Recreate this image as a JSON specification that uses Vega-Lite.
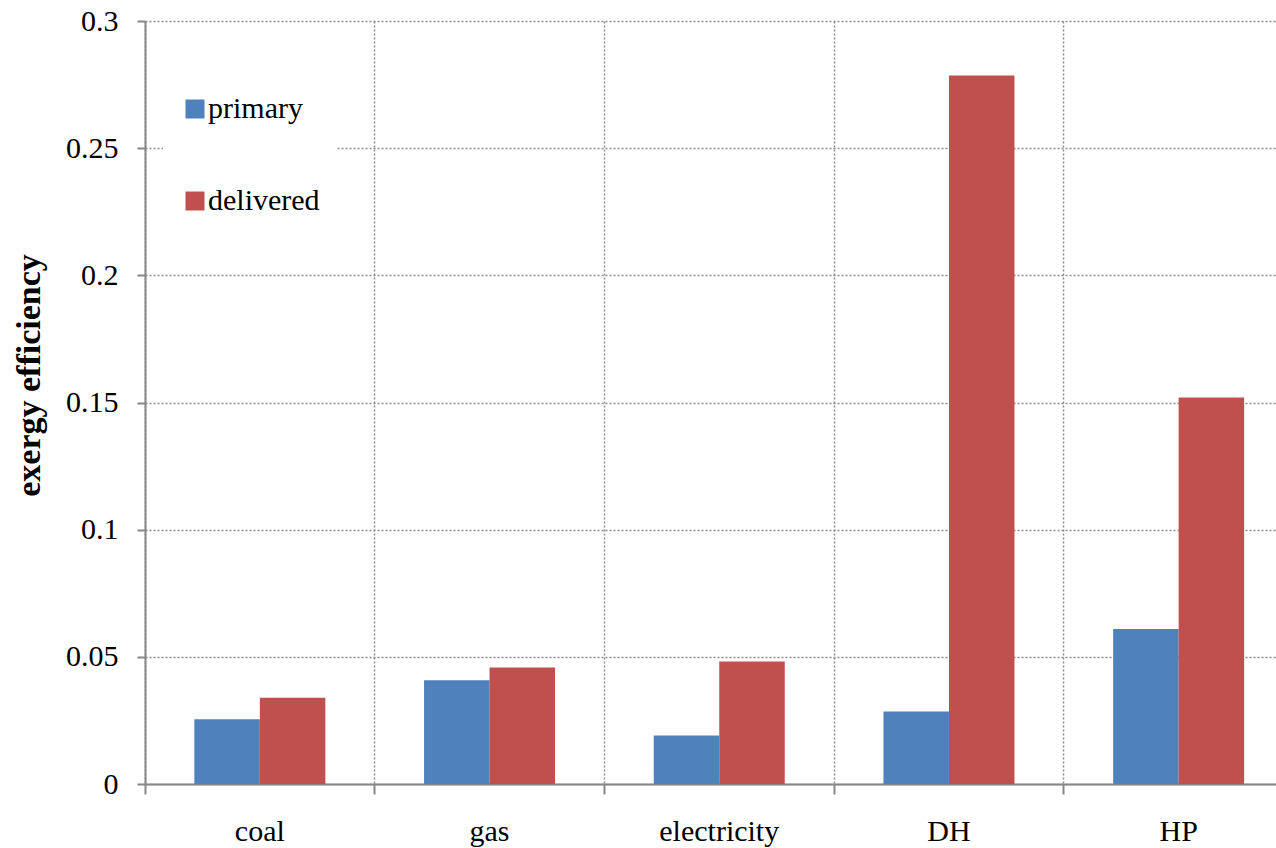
{
  "$schema": "https://vega.github.io/schema/vega-lite/v6.json",
  "width": 1131,
  "height": 763,
  "autosize": {"type": "none"},
  "padding": {"left": 145, "top": 21, "right": 0, "bottom": 64},
  "background": "white",
  "data": {
    "values": [
      {"source": "coal", "type": "primary", "efficiency": 0.0255},
      {"source": "coal", "type": "delivered", "efficiency": 0.0339},
      {"source": "gas", "type": "primary", "efficiency": 0.0408},
      {"source": "gas", "type": "delivered", "efficiency": 0.0458},
      {"source": "electricity", "type": "primary", "efficiency": 0.0191},
      {"source": "electricity", "type": "delivered", "efficiency": 0.0482},
      {"source": "DH", "type": "primary", "efficiency": 0.0285},
      {"source": "DH", "type": "delivered", "efficiency": 0.2786},
      {"source": "HP", "type": "primary", "efficiency": 0.0609},
      {"source": "HP", "type": "delivered", "efficiency": 0.152}
    ]
  },
  "mark": {"type": "bar"},
  "encoding": {
    "x": {
      "field": "source",
      "type": "nominal",
      "sort": ["coal", "gas", "electricity", "DH", "HP"],
      "scale": {"range": [0, 1148.5], "paddingInner": 0, "paddingOuter": 0},
      "axis": {
        "title": null,
        "bandPosition": 0,
        "labelAngle": 0,
        "labelFont": "Liberation Serif, Times New Roman, serif",
        "labelFontSize": 30,
        "labelColor": "#000000",
        "labelPadding": 22,
        "labelBaseline": "top",
        "domainColor": "#868686",
        "domainWidth": 2,
        "ticks": true,
        "tickColor": "#868686",
        "tickWidth": 2,
        "tickSize": 10,
        "grid": true,
        "gridColor": "#8c8c8c",
        "gridWidth": 1.5,
        "gridDash": [2, 2]
      }
    },
    "xOffset": {
      "field": "type",
      "sort": ["primary", "delivered"],
      "scale": {"paddingInner": 0, "paddingOuter": 0.7535}
    },
    "y": {
      "field": "efficiency",
      "type": "quantitative",
      "scale": {"domain": [0, 0.3], "nice": false},
      "axis": {
        "values": [0, 0.05, 0.1, 0.15, 0.2, 0.25, 0.3],
        "format": "~g",
        "title": "exergy efficiency",
        "titleFont": "Liberation Serif, Times New Roman, serif",
        "titleFontSize": 34,
        "titleFontWeight": "bold",
        "titleColor": "#000000",
        "titleAngle": -90,
        "titleX": -116,
        "titleY": 354,
        "titleAlign": "center",
        "titleBaseline": "middle",
        "labelFont": "Liberation Serif, Times New Roman, serif",
        "labelFontSize": 30,
        "labelColor": "#000000",
        "labelPadding": 19,
        "domainColor": "#868686",
        "domainWidth": 2,
        "tickColor": "#868686",
        "tickWidth": 2,
        "tickSize": 8,
        "grid": true,
        "gridColor": "#8c8c8c",
        "gridWidth": 1.5,
        "gridDash": [2, 2]
      }
    },
    "color": {
      "field": "type",
      "type": "nominal",
      "sort": ["primary", "delivered"],
      "scale": {"domain": ["primary", "delivered"], "range": ["#4F81BD", "#C0504D"]},
      "legend": {
        "title": null,
        "orient": "none",
        "legendX": 18,
        "legendY": 56,
        "direction": "vertical",
        "symbolType": "square",
        "symbolSize": 361,
        "symbolStrokeWidth": 0,
        "labelFont": "Liberation Serif, Times New Roman, serif",
        "labelFontSize": 30,
        "labelColor": "#000000",
        "labelOffset": -2,
        "rowPadding": 62,
        "padding": 17,
        "fillColor": "white",
        "strokeColor": null
      }
    }
  },
  "config": {
    "view": {"stroke": null}
  }
}
